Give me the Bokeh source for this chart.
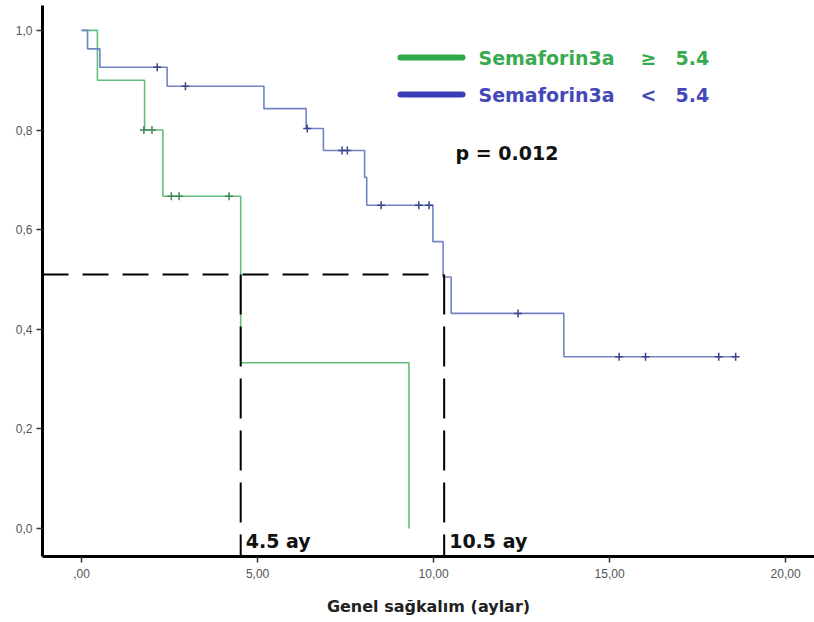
from bokeh.plotting import figure
from bokeh.models import Range1d, FixedTicker, Label, BoxAnnotation
from bokeh.embed import file_html
from bokeh.resources import INLINE

# ---- data ----
# Kaplan-Meier step curves (time in months, survival probability)
blue_time = [0.0, 0.17, 0.52, 2.43, 5.18, 6.38, 6.87, 8.04, 8.10, 9.98, 10.27, 10.50, 13.70, 18.60]
blue_surv = [1.0, 0.963, 0.926, 0.888, 0.843, 0.803, 0.759, 0.705, 0.649, 0.576, 0.505, 0.432, 0.345, 0.345]
blue_cens_time = [2.15, 2.95, 6.41, 7.40, 7.55, 8.51, 9.58, 9.87, 12.40, 15.27, 16.02, 18.10, 18.58]
blue_cens_surv = [0.926, 0.888, 0.803, 0.759, 0.759, 0.649, 0.649, 0.649, 0.432, 0.345, 0.345, 0.345, 0.345]

green_time = [0.0, 0.45, 1.79, 2.31, 4.52, 9.30]
green_surv = [1.0, 0.90, 0.80, 0.667, 0.333, 0.0]
green_cens_time = [1.77, 2.00, 2.55, 2.77, 4.19]
green_cens_surv = [0.80, 0.80, 0.667, 0.667, 0.667]

median_level = 0.51
median_times = [4.52, 10.30]
median_labels = ["4.5 ay", "10.5 ay"]

legend_labels = ["Semaforin3a", "Semaforin3a"]
legend_ops = ["\u2265", "<"]
legend_values = ["5.4", "5.4"]
p_value_text = "p = 0.012"

x_ticks = [0, 5, 10, 15, 20]
x_tick_labels = [",00", "5,00", "10,00", "15,00", "20,00"]
y_ticks = [0.0, 0.2, 0.4, 0.6, 0.8, 1.0]
y_tick_labels = ["0,0", "0,2", "0,4", "0,6", "0,8", "1,0"]
x_title = "Genel sağkalım (aylar)"

# ---- figure ----
X0, X1 = -1.11, 20.82
Y0, Y1 = -0.056, 1.05
p = figure(width=814, height=622, output_backend="svg", toolbar_location=None,
           x_range=Range1d(X0, X1), y_range=Range1d(Y0, Y1),
           min_border_left=42, min_border_right=0, min_border_top=5, min_border_bottom=66)
p.outline_line_color = None
p.grid.visible = False
p.background_fill_color = "white"
p.border_fill_color = "white"

FONT = "DejaVu Sans"

for ax in (p.xaxis[0], p.yaxis[0]):
    ax.axis_line_width = 3
    ax.axis_line_color = "black"
    ax.major_tick_line_color = "#333333"
    ax.major_tick_line_width = 1.5
    ax.major_tick_out = 6
    ax.major_tick_in = 0
    ax.minor_tick_line_color = None
    ax.major_label_text_font = "Liberation Sans"
    ax.major_label_text_font_size = "12px"
    ax.major_label_text_color = "#555555"

p.xaxis.ticker = FixedTicker(ticks=x_ticks)
p.yaxis.ticker = FixedTicker(ticks=y_ticks)
p.xaxis.major_label_overrides = dict(zip(x_ticks, x_tick_labels))
p.yaxis.major_label_overrides = dict(zip(y_ticks, y_tick_labels))
p.xaxis.major_label_standoff = 6
p.yaxis.major_label_standoff = 4
p.xaxis.axis_label = x_title
p.xaxis.axis_label_text_font = FONT
p.xaxis.axis_label_text_font_style = "bold"
p.xaxis.axis_label_text_font_size = "16px"
p.xaxis.axis_label_text_color = "#222222"
p.xaxis.axis_label_standoff = 16

# median guide lines
p.segment(x0=[X0], y0=[median_level], x1=[median_times[-1]], y1=[median_level],
          line_color="black", line_width=2, line_dash="26 14")

# curves
p.step(green_time, green_surv, mode="after", line_color="#62bd7c", line_width=1.6)
p.step(blue_time, blue_surv, mode="after", line_color="#7282c4", line_width=1.6)

p.segment(x0=median_times, y0=[median_level] * len(median_times),
          x1=median_times, y1=[Y0] * len(median_times),
          line_color="black", line_width=2, line_dash="40 12")

# censor marks
p.scatter(blue_cens_time, blue_cens_surv, marker="cross", size=8,
          line_color="#3a4590", line_width=1.5)
p.scatter(green_cens_time, green_cens_surv, marker="cross", size=8,
          line_color="#3f8a55", line_width=1.5)

# median labels (x in data, y in screen px above the x axis)
for t, lab in zip(median_times, median_labels):
    p.add_layout(Label(x=t, y=16, y_units="screen", x_offset=5, text=lab,
                       text_font=FONT, text_font_style="bold", text_font_size="19px",
                       text_color="#111111", text_baseline="middle"))

# legend (screen units relative to the plot frame)
legend_colors = ["#2fa84a", "#3a3fb8"]
text_colors = ["#3aaa50", "#4448b8"]
legend_y = [499, 462]
for yy, sw, tc, lab, op, val in zip(legend_y, legend_colors, text_colors,
                                    legend_labels, legend_ops, legend_values):
    p.add_layout(BoxAnnotation(left=355, right=423, bottom=yy - 3, top=yy + 3,
                               left_units="screen", right_units="screen",
                               bottom_units="screen", top_units="screen",
                               fill_color=sw, fill_alpha=1, line_color=None,
                               border_radius=3))
    for xx, txt in ((436, lab), (598, op), (633, val)):
        p.add_layout(Label(x=xx, y=yy, x_units="screen", y_units="screen", text=txt,
                           text_font=FONT, text_font_style="bold", text_font_size="19px",
                           text_color=tc, text_baseline="middle"))

p.add_layout(Label(x=413, y=404, x_units="screen", y_units="screen", text=p_value_text,
                   text_font=FONT, text_font_style="bold", text_font_size="19px",
                   text_color="#111111", text_baseline="middle"))

open("out.html", "w").write(file_html(p, INLINE))
